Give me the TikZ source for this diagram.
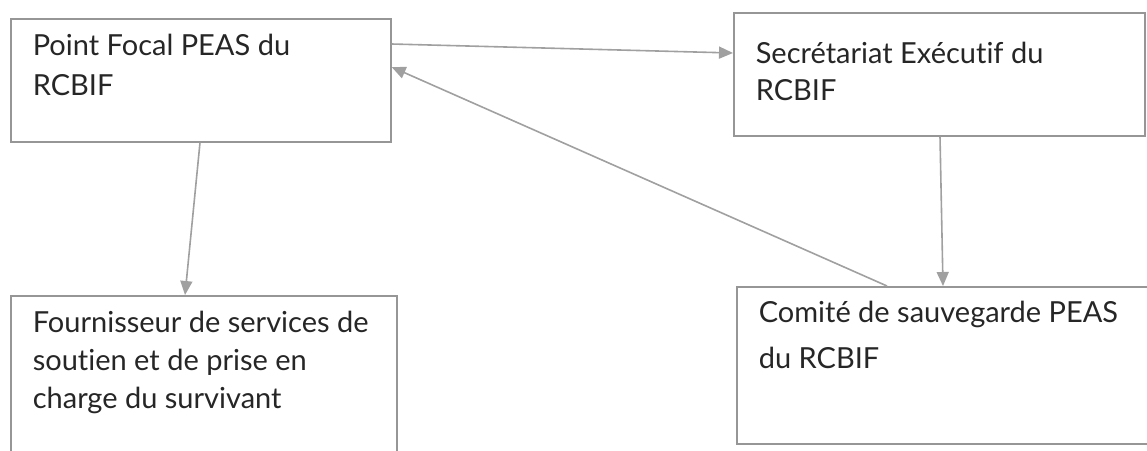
\documentclass[tikz,border=0pt]{standalone}
\usepackage{fontspec}
\setmainfont[Ligatures={NoCommon}]{Lato}
\usepackage{tikz}
\usetikzlibrary{arrows.meta}

\definecolor{edgegray}{RGB}{150,150,150}
\definecolor{linkgray}{RGB}{160,160,160}

% #1 width, #2 height, #3 first baseline, #4 leading, #5 text
\newcommand{\unittext}[5]{\parbox[c][#2][t]{#1}{\fontsize{29}{#4}\selectfont\raggedright\leftskip=22pt\rule{0pt}{#3}#5}}

\begin{document}
\begin{tikzpicture}[x=1pt,y=-1pt]
\tikzstyle{unit}=[draw=edgegray, line width=1.6pt, anchor=north west, inner sep=0pt, text=black!85]
\tikzstyle{link}=[draw=linkgray, line width=1.6pt, -{Triangle[length=14pt,width=12pt]}]
\useasboundingbox (0,0) rectangle (1147,450);
\node [unit] (pf) at (10,18) {\unittext{380pt}{123pt}{37pt}{40pt}{Point Focal PEAS du\\RCBIF}};
\node [unit] (se) at (733,12) {\unittext{411pt}{123pt}{51pt}{37pt}{Secrétariat Exécutif du\\RCBIF}};
\node [unit] (fs) at (10,295) {\unittext{386pt}{200pt}{37pt}{38pt}{Fournisseur de services de\\soutien et de prise en\\charge du survivant}};
\node [unit] (cs) at (736,286) {\unittext{480pt}{157pt}{36pt}{46pt}{Comité de sauvegarde PEAS\\du RCBIF}};
\draw [link] ([yshift=-26pt]pf.north east) -- ([yshift=-41pt]se.north west);
\draw [link] ([xshift=151pt]cs.north west) -- ([yshift=-49pt]pf.north east);
\draw [link] ([xshift=190pt]pf.south west) -- ([xshift=175pt]fs.north west);
\draw [link] ([xshift=207pt]se.south west) -- ([xshift=207pt]cs.north west);
\end{tikzpicture}
\end{document}
